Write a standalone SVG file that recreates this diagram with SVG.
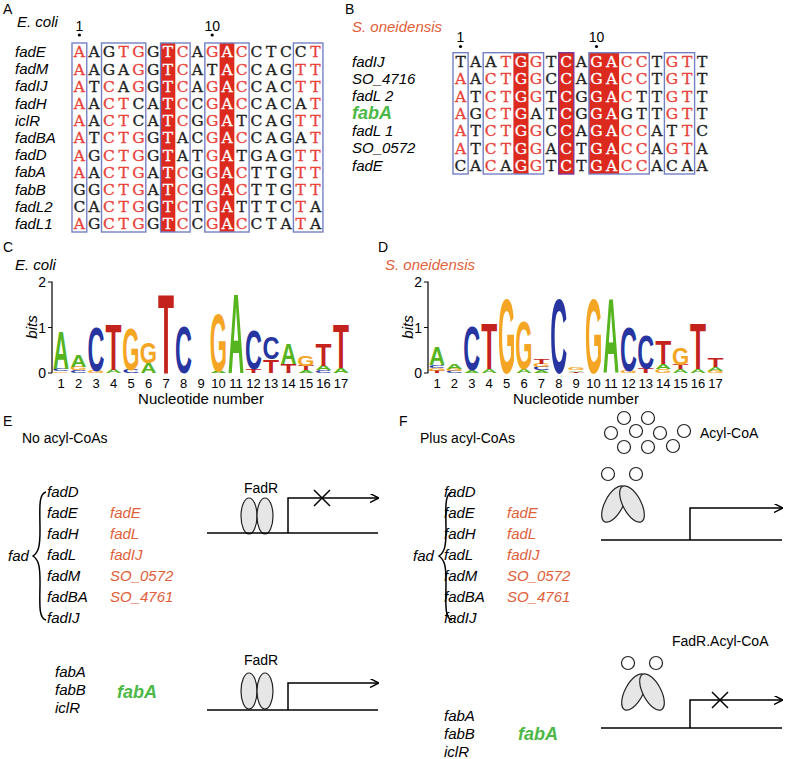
<svg xmlns="http://www.w3.org/2000/svg" width="791" height="759" viewBox="0 0 791 759">
<style>
svg{font-family:"Liberation Sans",Arial,sans-serif}
.pl{font-size:14px;fill:#000}
.lab{font-size:15px;font-style:italic;fill:#000}
.org{fill:#e0603a}
.grn{fill:#4db848;font-weight:bold;font-size:18px}
.sq{font-family:"DejaVu Serif","Liberation Serif",serif;font-size:15.5px;text-anchor:middle;fill:#222;stroke:#222;stroke-width:.3}
.r{fill:#e8423a;stroke:#e8423a}
.w{fill:#fff;stroke:#fff}
.box{fill:none;stroke:#7480c4;stroke-width:1.4}
.bx2{fill:none;stroke:#7a3a9a;stroke-width:1.4}
.red{fill:#dc2a1f}
.num{font-size:14px;text-anchor:middle}
.lg{font-size:100px;font-weight:bold;text-anchor:middle}
.cA{fill:#56b41f}.cC{fill:#2635a0}.cG{fill:#f4a523}.cT{fill:#c4221d}
.ax{stroke:#000;stroke-width:1.2;fill:none}
.tk{font-size:14px;text-anchor:end}
.xn{font-size:13px;text-anchor:middle}
.ln{stroke:#000;stroke-width:1.5;fill:none}
.ell{fill:#e6e6e6;stroke:#222;stroke-width:1.2}
.cir{fill:#fff;stroke:#222;stroke-width:1.2}
</style>
<defs>
<marker id="ah" viewBox="0 0 10 10" refX="9" refY="5" markerWidth="9" markerHeight="9" orient="auto" markerUnits="userSpaceOnUse"><path d="M0,0 L10,5 L0,10" fill="none" stroke="#000" stroke-width="1.6"/></marker>
</defs>

<!-- Panel A -->
<g id="panelA">
<text class="pl" x="3" y="14">A</text>
<text class="lab" x="17" y="27">E. coli</text>
<rect class="red" x="160.56" y="43" width="14.76" height="189"/>
<rect class="red" x="219.6" y="43" width="14.76" height="189"/>
<rect class="box" x="72" y="43" width="14.76" height="189"/>
<rect class="box" x="101.52" y="43" width="44.28" height="189"/>
<rect class="box" x="160.56" y="43" width="29.52" height="189"/>
<rect class="box" x="204.84" y="43" width="44.28" height="189"/>
<rect class="box" x="293.4" y="43" width="29.52" height="189"/>
<text class="num" x="79.4" y="31">1</text><circle cx="79.4" cy="35" r="1.6"/>
<text class="num" x="212.2" y="31">10</text><circle cx="212.2" cy="35" r="1.6"/>
<g class="lab">
<text x="15" y="57">fadE</text>
<text x="15" y="74.2">fadM</text>
<text x="15" y="91.4">fadIJ</text>
<text x="15" y="108.6">fadH</text>
<text x="15" y="125.8">iclR</text>
<text x="15" y="143">fadBA</text>
<text x="15" y="160.2">fadD</text>
<text x="15" y="177.4">fabA</text>
<text x="15" y="194.6">fabB</text>
<text x="15" y="211.8">fadL2</text>
<text x="15" y="229">fadL1</text>
</g>
<g class="sq">
<text x="79.38 94.14 108.9 123.66 138.42 153.18 167.94 182.7 197.46 212.22 226.98 241.74 256.5 271.26 286.02 300.78 315.54" y="57.4"><tspan class="r">A</tspan>AG<tspan class="r">TG</tspan>G<tspan class="w">T</tspan><tspan class="r">C</tspan>A<tspan class="r">G</tspan><tspan class="w">A</tspan><tspan class="r">C</tspan>CTCC<tspan class="r">T</tspan></text>
<text x="79.38 94.14 108.9 123.66 138.42 153.18 167.94 182.7 197.46 212.22 226.98 241.74 256.5 271.26 286.02 300.78 315.54" y="74.6"><tspan class="r">A</tspan>AGA<tspan class="r">G</tspan>G<tspan class="w">T</tspan><tspan class="r">C</tspan>AT<tspan class="w">A</tspan><tspan class="r">C</tspan>CAG<tspan class="r">TT</tspan></text>
<text x="79.38 94.14 108.9 123.66 138.42 153.18 167.94 182.7 197.46 212.22 226.98 241.74 256.5 271.26 286.02 300.78 315.54" y="91.8"><tspan class="r">A</tspan>T<tspan class="r">C</tspan>A<tspan class="r">G</tspan>G<tspan class="w">T</tspan><tspan class="r">C</tspan>A<tspan class="r">G</tspan><tspan class="w">A</tspan><tspan class="r">C</tspan>CAC<tspan class="r">TT</tspan></text>
<text x="79.38 94.14 108.9 123.66 138.42 153.18 167.94 182.7 197.46 212.22 226.98 241.74 256.5 271.26 286.02 300.78 315.54" y="109"><tspan class="r">A</tspan>A<tspan class="r">CT</tspan>CA<tspan class="w">T</tspan><tspan class="r">C</tspan>C<tspan class="r">G</tspan><tspan class="w">A</tspan><tspan class="r">C</tspan>CACA<tspan class="r">T</tspan></text>
<text x="79.38 94.14 108.9 123.66 138.42 153.18 167.94 182.7 197.46 212.22 226.98 241.74 256.5 271.26 286.02 300.78 315.54" y="126.2"><tspan class="r">A</tspan>A<tspan class="r">CT</tspan>CA<tspan class="w">T</tspan><tspan class="r">C</tspan>G<tspan class="r">G</tspan><tspan class="w">A</tspan>TCAG<tspan class="r">TT</tspan></text>
<text x="79.38 94.14 108.9 123.66 138.42 153.18 167.94 182.7 197.46 212.22 226.98 241.74 256.5 271.26 286.02 300.78 315.54" y="143.4"><tspan class="r">A</tspan>T<tspan class="r">CTG</tspan>G<tspan class="w">T</tspan>AC<tspan class="r">G</tspan><tspan class="w">A</tspan><tspan class="r">C</tspan>CAGA<tspan class="r">T</tspan></text>
<text x="79.38 94.14 108.9 123.66 138.42 153.18 167.94 182.7 197.46 212.22 226.98 241.74 256.5 271.26 286.02 300.78 315.54" y="160.6"><tspan class="r">A</tspan>G<tspan class="r">CTG</tspan>G<tspan class="w">T</tspan>AT<tspan class="r">G</tspan><tspan class="w">A</tspan>TGAG<tspan class="r">TT</tspan></text>
<text x="79.38 94.14 108.9 123.66 138.42 153.18 167.94 182.7 197.46 212.22 226.98 241.74 256.5 271.26 286.02 300.78 315.54" y="177.8"><tspan class="r">A</tspan>A<tspan class="r">CTG</tspan>A<tspan class="w">T</tspan><tspan class="r">C</tspan>G<tspan class="r">G</tspan><tspan class="w">A</tspan><tspan class="r">C</tspan>TTG<tspan class="r">TT</tspan></text>
<text x="79.38 94.14 108.9 123.66 138.42 153.18 167.94 182.7 197.46 212.22 226.98 241.74 256.5 271.26 286.02 300.78 315.54" y="195">GG<tspan class="r">CTG</tspan>A<tspan class="w">T</tspan><tspan class="r">C</tspan>G<tspan class="r">G</tspan><tspan class="w">A</tspan><tspan class="r">C</tspan>TTG<tspan class="r">TT</tspan></text>
<text x="79.38 94.14 108.9 123.66 138.42 153.18 167.94 182.7 197.46 212.22 226.98 241.74 256.5 271.26 286.02 300.78 315.54" y="212.2">CA<tspan class="r">CTG</tspan>G<tspan class="w">T</tspan><tspan class="r">C</tspan>T<tspan class="r">G</tspan><tspan class="w">A</tspan>TTTC<tspan class="r">T</tspan>A</text>
<text x="79.38 94.14 108.9 123.66 138.42 153.18 167.94 182.7 197.46 212.22 226.98 241.74 256.5 271.26 286.02 300.78 315.54" y="229.4"><tspan class="r">A</tspan>G<tspan class="r">CTG</tspan>G<tspan class="w">T</tspan><tspan class="r">C</tspan>C<tspan class="r">G</tspan><tspan class="w">A</tspan><tspan class="r">C</tspan>CTA<tspan class="r">T</tspan>A</text>
</g>
</g>

<!-- Panel B -->
<g id="panelB">
<text class="pl" x="345" y="14">B</text>
<text class="lab org" x="352" y="32">S. oneidensis</text>
<rect class="red" x="513.4" y="52.7" width="15.1" height="121.3"/>
<rect class="red" x="558.7" y="52.7" width="15.1" height="121.3"/>
<rect class="red" x="588.9" y="52.7" width="30.2" height="121.3"/>
<rect class="box" x="453" y="52.7" width="15.1" height="121.3"/>
<rect class="box" x="483.2" y="52.7" width="60.4" height="121.3"/>
<rect class="bx2" x="558.7" y="52.7" width="15.1" height="121.3"/>
<rect class="box" x="588.9" y="52.7" width="60.4" height="121.3"/>
<rect class="box" x="664.4" y="52.7" width="30.2" height="121.3"/>
<text class="num" x="460.5" y="42">1</text><circle cx="460.5" cy="46.5" r="1.6"/>
<text class="num" x="596.5" y="42">10</text><circle cx="596.5" cy="46.5" r="1.6"/>
<g class="lab">
<text x="352" y="66.5">fadIJ</text>
<text x="352" y="83.8">SO_4716</text>
<text x="352" y="101.2">fadL 2</text>
<text x="352" y="119" class="grn">fabA</text>
<text x="352" y="135.8">fadL 1</text>
<text x="352" y="153.2">SO_0572</text>
<text x="352" y="170.5">fadE</text>
</g>
<g class="sq">
<text x="460.55 475.65 490.75 505.85 520.95 536.05 551.15 566.25 581.35 596.45 611.55 626.65 641.75 656.85 671.95 687.05 702.15" y="66.9">TAA<tspan class="r">T</tspan><tspan class="w">G</tspan><tspan class="r">G</tspan>T<tspan class="w">C</tspan>A<tspan class="w">GA</tspan><tspan class="r">CC</tspan>T<tspan class="r">GT</tspan>T</text>
<text x="460.55 475.65 490.75 505.85 520.95 536.05 551.15 566.25 581.35 596.45 611.55 626.65 641.75 656.85 671.95 687.05 702.15" y="84.2"><tspan class="r">A</tspan>A<tspan class="r">CT</tspan><tspan class="w">G</tspan><tspan class="r">G</tspan>C<tspan class="w">C</tspan>A<tspan class="w">GA</tspan><tspan class="r">CC</tspan>T<tspan class="r">GT</tspan>T</text>
<text x="460.55 475.65 490.75 505.85 520.95 536.05 551.15 566.25 581.35 596.45 611.55 626.65 641.75 656.85 671.95 687.05 702.15" y="101.6"><tspan class="r">A</tspan>T<tspan class="r">CT</tspan><tspan class="w">G</tspan><tspan class="r">G</tspan>T<tspan class="w">C</tspan>G<tspan class="w">GA</tspan><tspan class="r">C</tspan>TT<tspan class="r">GT</tspan>T</text>
<text x="460.55 475.65 490.75 505.85 520.95 536.05 551.15 566.25 581.35 596.45 611.55 626.65 641.75 656.85 671.95 687.05 702.15" y="118.9"><tspan class="r">A</tspan>G<tspan class="r">CT</tspan><tspan class="w">G</tspan>AT<tspan class="w">C</tspan>G<tspan class="w">GA</tspan>GTT<tspan class="r">GT</tspan>T</text>
<text x="460.55 475.65 490.75 505.85 520.95 536.05 551.15 566.25 581.35 596.45 611.55 626.65 641.75 656.85 671.95 687.05 702.15" y="136.2"><tspan class="r">A</tspan>T<tspan class="r">CT</tspan><tspan class="w">G</tspan><tspan class="r">G</tspan>C<tspan class="w">C</tspan>A<tspan class="w">GA</tspan><tspan class="r">CC</tspan>AT<tspan class="r">T</tspan>C</text>
<text x="460.55 475.65 490.75 505.85 520.95 536.05 551.15 566.25 581.35 596.45 611.55 626.65 641.75 656.85 671.95 687.05 702.15" y="153.6"><tspan class="r">A</tspan>T<tspan class="r">CT</tspan><tspan class="w">G</tspan><tspan class="r">G</tspan>A<tspan class="w">C</tspan>T<tspan class="w">GA</tspan><tspan class="r">CC</tspan>A<tspan class="r">GT</tspan>A</text>
<text x="460.55 475.65 490.75 505.85 520.95 536.05 551.15 566.25 581.35 596.45 611.55 626.65 641.75 656.85 671.95 687.05 702.15" y="170.9">CA<tspan class="r">C</tspan>A<tspan class="w">G</tspan><tspan class="r">G</tspan>T<tspan class="w">C</tspan>T<tspan class="w">GA</tspan><tspan class="r">CC</tspan>ACAA</text>
</g>
</g>

<!-- Panel C -->
<g id="panelC">
<text class="pl" x="3" y="252">C</text>
<text class="lab" x="15" y="270">E. coli</text>
<path class="ax" d="M48,282 H52 V373 M48,327.5 H52 M48,373 H52"/>
<text class="tk" x="46" y="287">2</text><text class="tk" x="46" y="332.5">1</text><text class="tk" x="46" y="378">0</text>
<text class="lab" font-size="14" transform="translate(37,327) rotate(-90)" text-anchor="middle">bits</text>
<g>
<text class="lg cG" transform="translate(61,373) scale(.222,.025)">G</text>
<text class="lg cC" transform="translate(61,371.2) scale(.235,.032)">C</text>
<text class="lg cA" transform="translate(61,368.9) scale(.222,.540)">A</text>
<text class="lg cC" transform="translate(78.5,373) scale(.235,.038)">C</text>
<text class="lg cG" transform="translate(78.5,370.3) scale(.222,.051)">G</text>
<text class="lg cA" transform="translate(78.5,366.6) scale(.222,.165)">A</text>
<text class="lg cG" transform="translate(96,373) scale(.222,.032)">G</text>
<text class="lg cC" transform="translate(96,370.7) scale(.235,.622)">C</text>
<text class="lg cA" transform="translate(113.5,373) scale(.222,.044)">A</text>
<text class="lg cT" transform="translate(113.5,369.8) scale(.262,.647)">T</text>
<text class="lg cC" transform="translate(131,373) scale(.235,.044)">C</text>
<text class="lg cG" transform="translate(131,369.8) scale(.222,.590)">G</text>
<text class="lg cA" transform="translate(148.5,373) scale(.222,.140)">A</text>
<text class="lg cG" transform="translate(148.5,362.95) scale(.222,.292)">G</text>
<text class="lg cT" transform="translate(166,373) scale(.262,1.123)">T</text>
<text class="lg cC" transform="translate(183.5,373) scale(.235,.666)">C</text>
<text class="lg cA" transform="translate(218.5,373) scale(.222,.032)">A</text>
<text class="lg cG" transform="translate(218.5,370.7) scale(.222,.812)">G</text>
<text class="lg cA" transform="translate(236,373) scale(.222,1.123)">A</text>
<text class="lg cT" transform="translate(253.5,373) scale(.262,.051)">T</text>
<text class="lg cC" transform="translate(253.5,369.3) scale(.235,.546)">C</text>
<text class="lg cT" transform="translate(271,373) scale(.262,.190)">T</text>
<text class="lg cC" transform="translate(271,359.3) scale(.235,.317)">C</text>
<text class="lg cT" transform="translate(288.5,373) scale(.262,.127)">T</text>
<text class="lg cA" transform="translate(288.5,363.9) scale(.222,.286)">A</text>
<text class="lg cA" transform="translate(306,373) scale(.222,.038)">A</text>
<text class="lg cT" transform="translate(306,370.3) scale(.262,.063)">T</text>
<text class="lg cG" transform="translate(306,365.7) scale(.222,.140)">G</text>
<text class="lg cC" transform="translate(323.5,373) scale(.235,.038)">C</text>
<text class="lg cA" transform="translate(323.5,370.3) scale(.222,.063)">A</text>
<text class="lg cT" transform="translate(323.5,365.7) scale(.262,.317)">T</text>
<text class="lg cA" transform="translate(341,373) scale(.222,.063)">A</text>
<text class="lg cT" transform="translate(341,368.4) scale(.262,.635)">T</text>
</g>
<g class="xn">
<text x="61" y="388">1</text><text x="78.5" y="388">2</text><text x="96" y="388">3</text><text x="113.5" y="388">4</text><text x="131" y="388">5</text><text x="148.5" y="388">6</text><text x="166" y="388">7</text><text x="183.5" y="388">8</text><text x="201" y="388">9</text><text x="218.5" y="388">10</text><text x="236" y="388">11</text><text x="253.5" y="388">12</text><text x="271" y="388">13</text><text x="288.5" y="388">14</text><text x="306" y="388">15</text><text x="323.5" y="388">16</text><text x="341" y="388">17</text>
</g>
<text x="201" y="404" font-size="15" text-anchor="middle">Nucleotide number</text>
</g>

<!-- Panel D -->
<g id="panelD">
<text class="pl" x="378" y="252">D</text>
<text class="lab org" x="385" y="270">S. oneidensis</text>
<path class="ax" d="M424,282 H428 V373 M424,327.5 H428 M424,373 H428"/>
<text class="tk" x="422" y="287">2</text><text class="tk" x="422" y="332.5">1</text><text class="tk" x="422" y="378">0</text>
<text class="lab" font-size="14" transform="translate(413,327) rotate(-90)" text-anchor="middle">bits</text>
<g>
<text class="lg cT" transform="translate(437,373) scale(.262,.031)">T</text>
<text class="lg cG" transform="translate(437,370.75) scale(.222,.038)">G</text>
<text class="lg cC" transform="translate(437,368.05) scale(.235,.038)">C</text>
<text class="lg cA" transform="translate(437,365.35) scale(.222,.25)">A</text>
<text class="lg cC" transform="translate(454.4,373) scale(.235,.031)">C</text>
<text class="lg cG" transform="translate(454.4,370.75) scale(.222,.031)">G</text>
<text class="lg cA" transform="translate(454.4,368.5) scale(.222,.075)">A</text>
<text class="lg cA" transform="translate(471.8,373) scale(.222,.038)">A</text>
<text class="lg cC" transform="translate(471.8,370.3) scale(.235,.638)">C</text>
<text class="lg cA" transform="translate(489.2,373) scale(.222,.05)">A</text>
<text class="lg cT" transform="translate(489.2,369.4) scale(.262,.656)">T</text>
<text class="lg cG" transform="translate(506.6,373) scale(.222,1.05)">G</text>
<text class="lg cA" transform="translate(524,373) scale(.222,.05)">A</text>
<text class="lg cG" transform="translate(524,369.4) scale(.222,.681)">G</text>
<text class="lg cA" transform="translate(541.4,373) scale(.222,.038)">A</text>
<text class="lg cC" transform="translate(541.4,370.3) scale(.235,.05)">C</text>
<text class="lg cG" transform="translate(541.4,366.7) scale(.222,.044)">G</text>
<text class="lg cT" transform="translate(541.4,363.55) scale(.262,.075)">T</text>
<text class="lg cC" transform="translate(558.8,373) scale(.235,1.05)">C</text>
<text class="lg cT" transform="translate(576.2,373) scale(.262,.019)">T</text>
<text class="lg cA" transform="translate(576.2,371.65) scale(.222,.025)">A</text>
<text class="lg cG" transform="translate(576.2,369.85) scale(.222,.031)">G</text>
<text class="lg cG" transform="translate(593.6,373) scale(.222,1.05)">G</text>
<text class="lg cA" transform="translate(611,373) scale(.222,1.05)">A</text>
<text class="lg cG" transform="translate(628.4,373) scale(.222,.031)">G</text>
<text class="lg cC" transform="translate(628.4,370.75) scale(.235,.625)">C</text>
<text class="lg cT" transform="translate(645.8,373) scale(.262,.063)">T</text>
<text class="lg cC" transform="translate(645.8,368.5) scale(.235,.4875)">C</text>
<text class="lg cG" transform="translate(663.2,373) scale(.222,.05)">G</text>
<text class="lg cA" transform="translate(663.2,369.4) scale(.222,.075)">A</text>
<text class="lg cT" transform="translate(663.2,364) scale(.262,.325)">T</text>
<text class="lg cA" transform="translate(680.6,373) scale(.222,.05)">A</text>
<text class="lg cT" transform="translate(680.6,369.4) scale(.262,.063)">T</text>
<text class="lg cG" transform="translate(680.6,364.9) scale(.222,.231)">G</text>
<text class="lg cA" transform="translate(698,373) scale(.222,.05)">A</text>
<text class="lg cT" transform="translate(698,369.4) scale(.262,.65)">T</text>
<text class="lg cG" transform="translate(715.4,373) scale(.222,.031)">G</text>
<text class="lg cA" transform="translate(715.4,370.75) scale(.222,.05)">A</text>
<text class="lg cT" transform="translate(715.4,367.15) scale(.262,.125)">T</text>
</g>
<g class="xn">
<text x="437" y="388">1</text><text x="454.4" y="388">2</text><text x="471.8" y="388">3</text><text x="489.2" y="388">4</text><text x="506.6" y="388">5</text><text x="524" y="388">6</text><text x="541.4" y="388">7</text><text x="558.8" y="388">8</text><text x="576.2" y="388">9</text><text x="593.6" y="388">10</text><text x="611" y="388">11</text><text x="628.4" y="388">12</text><text x="645.8" y="388">13</text><text x="663.2" y="388">14</text><text x="680.6" y="388">15</text><text x="698" y="388">16</text><text x="715.4" y="388">17</text>
</g>
<text x="576" y="404" font-size="15" text-anchor="middle">Nucleotide number</text>
</g>

<!-- Panel E -->
<g id="panelE">
<text class="pl" x="3" y="426">E</text>
<text class="pl" x="22" y="443">No acyl-CoAs</text>
<text class="lab" x="8" y="561">fad</text>
<path class="ln" stroke-width="1.2" d="M46,492 C38,494 40,510 40,530 C40,545 39,552 33,556 C39,560 40,567 40,582 C40,602 38,618 46,620"/>
<g class="lab">
<text x="47" y="497">fadD</text><text x="47" y="518">fadE</text><text x="47" y="539">fadH</text><text x="47" y="560">fadL</text><text x="47" y="581">fadM</text><text x="47" y="602">fadBA</text><text x="47" y="623">fadIJ</text>
</g>
<g class="lab org">
<text x="110" y="518">fadE</text><text x="110" y="539">fadL</text><text x="110" y="560">fadIJ</text><text x="110" y="581">SO_0572</text><text x="110" y="602">SO_4761</text>
</g>
<g class="lab">
<text x="55" y="677">fabA</text><text x="55" y="695">fabB</text><text x="55" y="713">iclR</text>
</g>
<text class="lab grn" x="117" y="698" font-size="19">fabA</text>
</g>
<g id="fadR1">
<text class="pl" x="244" y="493">FadR</text>
<ellipse class="ell" cx="249" cy="516" rx="8" ry="18"/>
<ellipse class="ell" cx="265" cy="516" rx="8" ry="18"/>
</g>
<g id="fadR2">
<text class="pl" x="244" y="665">FadR</text>
<ellipse class="ell" cx="249" cy="691" rx="8" ry="18"/>
<ellipse class="ell" cx="265" cy="691" rx="8" ry="18"/>
</g>

<!-- Panel F -->
<g id="panelF">
<text class="pl" x="399" y="426">F</text>
<text class="pl" x="420" y="443">Plus acyl-CoAs</text>
<text class="pl" x="700" y="438">Acyl-CoA</text>
<text class="lab" x="413" y="561">fad</text>
<path class="ln" stroke-width="1.2" d="M452,492 C444,494 446,510 446,530 C446,545 445,552 439,556 C445,560 446,567 446,582 C446,602 444,618 452,620"/>
<g class="lab">
<text x="444" y="497">fadD</text><text x="444" y="518">fadE</text><text x="444" y="539">fadH</text><text x="444" y="560">fadL</text><text x="444" y="581">fadM</text><text x="444" y="602">fadBA</text><text x="444" y="623">fadIJ</text>
</g>
<g class="lab org">
<text x="507" y="518">fadE</text><text x="507" y="539">fadL</text><text x="507" y="560">fadIJ</text><text x="507" y="581">SO_0572</text><text x="507" y="602">SO_4761</text>
</g>
<g class="lab">
<text x="444" y="721">fabA</text><text x="444" y="739">fabB</text><text x="444" y="757">iclR</text>
</g>
<text class="lab grn" x="518" y="740" font-size="19">fabA</text>
<text class="pl" x="672" y="646">FadR.Acyl-CoA</text>
</g>
<g id="acylcoa">
<circle class="cir" cx="624" cy="418" r="6.5"/><circle class="cir" cx="648" cy="418" r="6.5"/>
<circle class="cir" cx="611" cy="433" r="6.5"/><circle class="cir" cx="636" cy="431" r="6.5"/><circle class="cir" cx="660" cy="433" r="6.5"/><circle class="cir" cx="684" cy="431" r="6.5"/>
<circle class="cir" cx="624" cy="447" r="6.5"/><circle class="cir" cx="648" cy="447" r="6.5"/><circle class="cir" cx="673" cy="446" r="6.5"/>
</g>
<g id="complex1">
<ellipse class="ell" cx="614" cy="504" rx="9" ry="20" transform="rotate(28 614 504)"/>
<ellipse class="ell" cx="632" cy="504" rx="9" ry="20" transform="rotate(-28 632 504)"/>
<circle class="cir" cx="608" cy="474" r="6.5"/><circle class="cir" cx="636" cy="474" r="6.5"/>
</g>
<g id="complex2">
<ellipse class="ell" cx="634" cy="692" rx="9" ry="20" transform="rotate(28 634 692)"/>
<ellipse class="ell" cx="652" cy="692" rx="9" ry="20" transform="rotate(-28 652 692)"/>
<circle class="cir" cx="628" cy="663" r="6.5"/><circle class="cir" cx="656" cy="663" r="6.5"/>
</g>

<g id="connectors">
<path class="ln" d="M207,533 H378"/>
<path class="ln" d="M288,533 V498 H378" marker-end="url(#ah)"/>
<path class="ln" d="M314,490 L330,506 M314,506 L330,490"/>
<path class="ln" d="M207,710 H378"/>
<path class="ln" d="M288,710 V683 H378" marker-end="url(#ah)"/>
<path class="ln" d="M601,540 H782"/>
<path class="ln" d="M690,540 V508 H782" marker-end="url(#ah)"/>
<path class="ln" d="M601,728 H782"/>
<path class="ln" d="M690,728 V700 H782" marker-end="url(#ah)"/>
<path class="ln" d="M712,692 L728,708 M712,708 L728,692"/>
</g>
</svg>
